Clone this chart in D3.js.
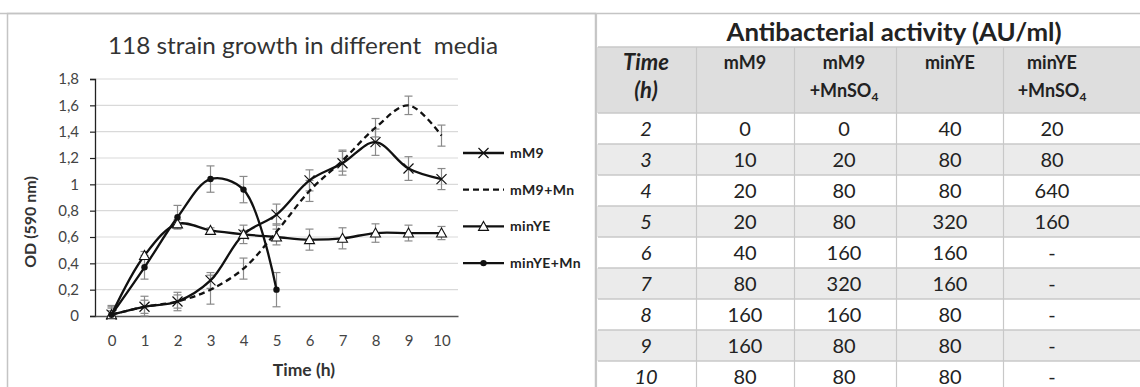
<!DOCTYPE html>
<html>
<head>
<meta charset="utf-8">
<script src="https://cdn.jsdelivr.net/npm/d3@7"></script>
<style>
  body { margin: 0; background: #fff; }
  svg { display: block; font-family: Lato, "Open Sans", sans-serif; }
</style>
</head>
<body>
<svg id="chart" width="1140" height="387"></svg>
<script>
// growth curves (OD 590 nm)
const hours = [0, 1, 2, 3, 4, 5, 6, 7, 8, 9, 10];
const mM9 = [0.01, 0.07, 0.11, 0.27, 0.62, 0.77, 1.03, 1.16, 1.32, 1.12, 1.04];
const mM9Err = [0.07, 0.08, 0.07, 0.06, 0.07, 0.08, 0.08, 0.09, 0.1, 0.09, 0.08];
const mM9Mn = [0.01, 0.07, 0.11, 0.2, 0.36, 0.64, 0.95, 1.18, 1.43, 1.6, 1.37];
const mM9MnErr = [0.06, 0.05, 0.05, 0.11, 0.08, 0.06, 0.08, 0.08, 0.07, 0.07, 0.08];
const minYE = [0.01, 0.46, 0.7, 0.65, 0.62, 0.6, 0.58, 0.59, 0.63, 0.63, 0.63];
const minYEErr = [0.03, 0.03, 0.03, 0.02, 0.03, 0.06, 0.08, 0.08, 0.07, 0.06, 0.05];
const minYEMn = [0.01, 0.37, 0.75, 1.04, 0.96, 0.2];
const minYEMnErr = [0.05, 0.09, 0.09, 0.1, 0.1, 0.13];
const yTicks = [0, 0.2, 0.4, 0.6, 0.8, 1, 1.2, 1.4, 1.6, 1.8];

// antibacterial activity table (AU/ml)
const tableTimes = ["2", "3", "4", "5", "6", "7", "8", "9", "10"];
const actMM9 = ["0", "10", "20", "20", "40", "80", "160", "160", "80"];
const actMM9Mn = ["0", "20", "80", "80", "160", "320", "160", "80", "80"];
const actMinYE = ["40", "80", "80", "320", "160", "160", "80", "80", "80"];
const actMinYEMn = ["20", "80", "640", "160", "-", "-", "-", "-", "-"];

const svg = d3.select("#chart");

// chart frame
svg.append("rect").attr("x", 7.5).attr("y", 13.5).attr("width", 588).attr("height", 390)
  .attr("fill", "#fff").attr("stroke", "#c4c4c4").attr("stroke-width", 1.5);

const x = d3.scaleLinear().domain([-0.5, 10.5]).range([95, 458]);
const y = d3.scaleLinear().domain([0, 1.8]).range([316, 79]);

// gridlines
svg.append("g").selectAll("line").data(yTicks.filter(d => d > 0)).join("line")
  .attr("x1", x(-0.5)).attr("x2", x(10.5))
  .attr("y1", d => y(d)).attr("y2", d => y(d))
  .attr("stroke", "#d9d9d9").attr("stroke-width", 1.2);

// y axis
const yAxis = svg.append("g").attr("transform", `translate(${x(-0.5)},0)`)
  .call(d3.axisLeft(y).tickValues(yTicks).tickSize(5).tickPadding(11)
    .tickFormat(d => String(d).replace(".", ",")));
yAxis.select(".domain").attr("stroke", "#222").attr("stroke-width", 1.3);
yAxis.selectAll(".tick line").attr("stroke", "#222").attr("stroke-width", 1.2);
yAxis.selectAll("text").attr("font-size", 15).attr("fill", "#444")
  .attr("font-family", "Lato, sans-serif");

// x axis
const xAxis = svg.append("g").attr("transform", `translate(0,${y(0)})`)
  .call(d3.axisBottom(x).tickValues(hours).tickSize(0).tickPadding(19));
xAxis.select(".domain").attr("stroke", "#555").attr("stroke-width", 1.6);
xAxis.selectAll("text").attr("font-size", 15).attr("fill", "#444")
  .attr("font-family", "Lato, sans-serif");

// titles
svg.append("text").attr("x", 303).attr("y", 54).attr("text-anchor", "middle")
  .attr("font-size", 23.5).attr("fill", "#333")
  .attr("textLength", 390).attr("lengthAdjust", "spacingAndGlyphs")
  .text("118 strain growth in different\u00a0 media");
svg.append("text").attr("x", 304).attr("y", 376).attr("text-anchor", "middle")
  .attr("font-size", 17.5).attr("font-weight", "bold").attr("fill", "#333").text("Time (h)");
svg.append("text").attr("transform", "translate(36,222) rotate(-90)").attr("text-anchor", "middle")
  .attr("font-size", 16).attr("font-weight", "bold").attr("fill", "#333").text("OD (590 nm)");

const series = [
  { name: "mM9", values: mM9, err: mM9Err, dash: null, marker: "x" },
  { name: "mM9+Mn", values: mM9Mn, err: mM9MnErr, dash: "6,4", marker: null },
  { name: "minYE", values: minYE, err: minYEErr, dash: null, marker: "tri" },
  { name: "minYE+Mn", values: minYEMn, err: minYEMnErr, dash: null, marker: "dot" }
];

// error bars
const eb = svg.append("g").attr("stroke", "#8a8a8a").attr("stroke-width", 1.2);
series.forEach(s => {
  s.values.forEach((v, i) => {
    const cx = x(hours[i]);
    const lo = y(Math.max(0, v - s.err[i])), hi = y(v + s.err[i]);
    eb.append("line").attr("x1", cx).attr("x2", cx).attr("y1", lo).attr("y2", hi);
    eb.append("line").attr("x1", cx - 4).attr("x2", cx + 4).attr("y1", lo).attr("y2", lo);
    eb.append("line").attr("x1", cx - 4).attr("x2", cx + 4).attr("y1", hi).attr("y2", hi);
  });
});

// lines
const line = d3.line().x((d, i) => x(hours[i])).y(d => y(d)).curve(d3.curveCatmullRom.alpha(0.5));
series.forEach(s => {
  svg.append("path").attr("d", line(s.values)).attr("fill", "none")
    .attr("stroke", "#111").attr("stroke-width", 2.3)
    .attr("stroke-dasharray", s.dash);
});

function drawMarker(g, type, cx, cy) {
  if (type === "x") {
    g.append("path").attr("d", `M${cx - 5},${cy - 5}L${cx + 5},${cy + 5}M${cx - 5},${cy + 5}L${cx + 5},${cy - 5}`)
      .attr("stroke", "#111").attr("stroke-width", 1.2).attr("fill", "none");
  } else if (type === "tri") {
    g.append("path").attr("d", `M${cx},${cy - 5}L${cx + 5},${cy + 4}L${cx - 5},${cy + 4}Z`)
      .attr("stroke", "#111").attr("stroke-width", 1.1).attr("fill", "#fff");
  } else if (type === "dot") {
    g.append("circle").attr("cx", cx).attr("cy", cy).attr("r", 3.2).attr("fill", "#111");
  }
}

const mk = svg.append("g");
series.forEach(s => {
  if (!s.marker) return;
  s.values.forEach((v, i) => drawMarker(mk, s.marker, x(hours[i]), y(v)));
});

// legend
const leg = svg.append("g");
series.forEach((s, i) => {
  const ly = 153 + i * 36.7;
  leg.append("line").attr("x1", 463).attr("x2", 504).attr("y1", ly).attr("y2", ly)
    .attr("stroke", "#111").attr("stroke-width", 2.3).attr("stroke-dasharray", s.dash);
  if (s.marker) drawMarker(leg, s.marker, 483.5, ly);
  leg.append("text").attr("x", 510).attr("y", ly + 5).attr("font-size", 14)
    .attr("letter-spacing", 0.4)
    .attr("font-weight", "bold").attr("fill", "#222").text(s.name);
});

// ---- table ----
const colEdges = [596, 696, 794, 896, 1003, 1140];
const colCenters = [646, 745, 844, 950, 1052];
const rowTop = 113, rowH = 31, headTop = 47;
const tableCols = [tableTimes, actMM9, actMM9Mn, actMinYE, actMinYEMn];

const tb = svg.append("g");
tb.append("rect").attr("x", 596).attr("y", 13).attr("width", 544).attr("height", 380).attr("fill", "#fff");
tb.append("line").attr("x1", 0).attr("x2", 1140).attr("y1", 13.5).attr("y2", 13.5)
  .attr("stroke", "#c4c4c4").attr("stroke-width", 1.5);
tb.append("rect").attr("x", 596).attr("y", headTop).attr("width", 544).attr("height", rowTop - headTop)
  .attr("fill", "#dedede");
tb.selectAll("rect.row").data(tableTimes).join("rect").attr("class", "row")
  .attr("x", 596).attr("y", (d, i) => rowTop + i * rowH).attr("width", 544).attr("height", rowH)
  .attr("fill", (d, i) => i % 2 === 1 ? "#ebebeb" : "#fff");
// horizontal rules
tb.selectAll("line.h").data(d3.range(tableTimes.length + 1)).join("line").attr("class", "h")
  .attr("x1", 598).attr("x2", 1140)
  .attr("y1", i => rowTop + i * rowH).attr("y2", i => rowTop + i * rowH)
  .attr("stroke", "#c8c8c8").attr("stroke-width", 1.5);
tb.append("line").attr("x1", 598).attr("x2", 1140).attr("y1", headTop).attr("y2", headTop)
  .attr("stroke", "#c8c8c8").attr("stroke-width", 1.5);
// vertical rules
tb.selectAll("line.v").data(colEdges.slice(0, 5)).join("line").attr("class", "v")
  .attr("x1", d => d + 0.5).attr("x2", d => d + 0.5)
  .attr("y1", (d, i) => i === 0 ? 13 : headTop).attr("y2", 387)
  .attr("stroke", "#c8c8c8").attr("stroke-width", 1.2);

tb.append("text").attr("x", 894).attr("y", 41).attr("text-anchor", "middle")
  .attr("font-size", 24).attr("font-weight", "bold").attr("fill", "#222")
  .attr("textLength", 335).attr("lengthAdjust", "spacingAndGlyphs")
  .text("Antibacterial activity (AU/ml)");

// header
const head = tb.append("g").attr("font-weight", "bold").attr("fill", "#222").attr("text-anchor", "middle");
head.append("text").attr("x", colCenters[0]).attr("y", 70).attr("font-size", 22).attr("font-style", "italic").text("Time");
head.append("text").attr("x", colCenters[0]).attr("y", 98).attr("font-size", 22).attr("font-style", "italic").text("(h)");
const headNames = [["mM9", ""], ["mM9", "+MnSO"], ["minYE", ""], ["minYE", "+MnSO"]];
headNames.forEach((h, i) => {
  const cx = colCenters[i + 1];
  head.append("text").attr("x", cx).attr("y", 69).attr("font-size", 18).text(h[0]);
  if (h[1]) {
    const t = head.append("text").attr("x", cx).attr("y", 97).attr("font-size", 18);
    t.append("tspan").text(h[1]);
    t.append("tspan").attr("font-size", 12).attr("dy", 4).text("4");
  }
});

// body cells
tableCols.forEach((col, c) => {
  tb.append("g").selectAll("text").data(col).join("text")
    .attr("x", colCenters[c]).attr("y", (d, i) => rowTop + i * rowH + 23)
    .attr("text-anchor", "middle").attr("font-size", 20).attr("fill", "#222")
    .attr("font-style", c === 0 ? "italic" : null)
    .text(d => d);
});
</script>
</body>
</html>
